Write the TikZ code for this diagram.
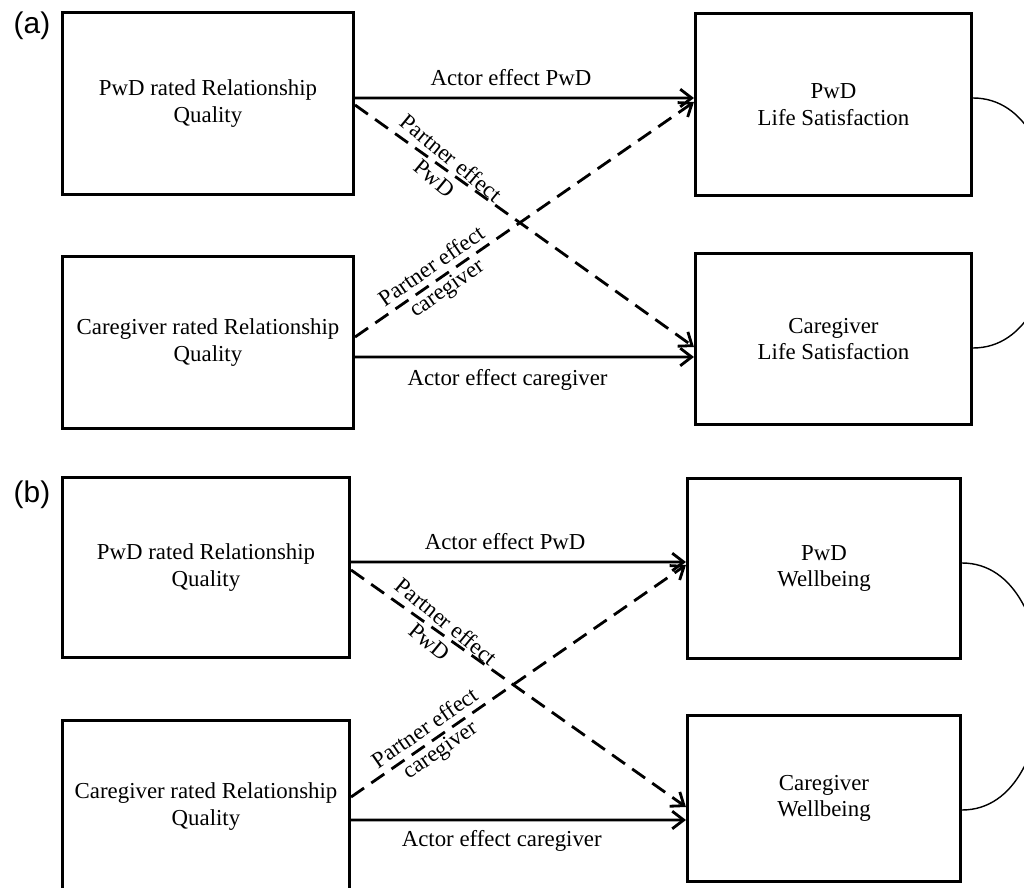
\documentclass[tikz,border=0pt]{standalone}
\usepackage{fontspec}
\setmainfont{Liberation Serif}
\newfontfamily\panelfont{Liberation Sans}
\usetikzlibrary{arrows.meta}

\begin{document}
\begin{tikzpicture}[x=0.02cm, y=-0.02cm, >={Straight Barb[length=6.5pt,width=10pt]}]
    \tikzstyle{box}=[draw, line width=1.8pt, align=center, inner sep=0pt, font=\fontsize{13}{15}\selectfont]
    \tikzstyle{actor}=[->, line width=1.6pt]
    \tikzstyle{partner}=[->, line width=1.6pt, dash pattern=on 9pt off 5pt]
    \tikzstyle{annot}=[align=center, font=\fontsize{13}{15}\selectfont]
    \tikzstyle{link}=[line width=0.8pt]
    \tikzstyle{panel}=[font=\panelfont\fontsize{17}{20}\selectfont]

    \useasboundingbox (0,0) rectangle (1024,888);
    \clip (0,0) rectangle (1024,888);

    % (a) Life Satisfaction
    \node[panel] (La) at (32, 26) {(a)};
    \node[box, minimum width=5.82cm, minimum height=3.64cm] (PwDRQa) at (208, 103.5) {PwD rated Relationship\\Quality};
    \node[box, minimum width=5.82cm, minimum height=3.44cm] (CgRQa) at (208, 342.5) {Caregiver rated Relationship\\Quality};
    \node[box, minimum width=5.52cm, minimum height=3.64cm] (PwDLSa) at (833.5, 104.5) {PwD\\Life Satisfaction};
    \node[box, minimum width=5.52cm, minimum height=3.42cm] (CgLSa) at (833.5, 339) {Caregiver\\Life Satisfaction};

    \draw[actor] ([yshift=0.11cm]PwDRQa.east) -- node[annot, above=3pt, pos=0.46] {Actor effect PwD} ([yshift=0.13cm]PwDLSa.west);
    \draw[actor] ([yshift=-0.29cm]CgRQa.east) -- node[annot, below=3pt, pos=0.45] {Actor effect caregiver} ([yshift=-0.36cm]CgLSa.west);
    \draw[partner] ([yshift=-0.03cm]PwDRQa.east) -- node[annot, sloped, rotate=-4, pos=0.26] {Partner effect\\PwD} ([yshift=-0.16cm]CgLSa.west);
    \draw[partner] ([yshift=0.11cm]CgRQa.east) -- node[annot, sloped, pos=0.25] {Partner effect\\caregiver} ([yshift=0.05cm]PwDLSa.west);

    \draw[link] ([yshift=0.13cm]PwDLSa.east) to[out=0, in=0, looseness=1.1] ([yshift=-0.18cm]CgLSa.east);

    % (b) Wellbeing
    \node[panel] (Lb) at (32, 495) {(b)};
    \node[box, minimum width=5.74cm, minimum height=3.6cm] (PwDRQb) at (206, 567.5) {PwD rated Relationship\\Quality};
    \node[box, minimum width=5.74cm, minimum height=3.44cm] (CgRQb) at (206, 806.5) {Caregiver rated Relationship\\Quality};
    \node[box, minimum width=5.46cm, minimum height=3.6cm] (PwDWb) at (824, 568.5) {PwD\\Wellbeing};
    \node[box, minimum width=5.46cm, minimum height=3.32cm] (CgWb) at (824, 798.5) {Caregiver\\Wellbeing};

    \draw[actor] ([yshift=0.11cm]PwDRQb.east) -- node[annot, above=3pt, pos=0.46] {Actor effect PwD} ([yshift=0.13cm]PwDWb.west);
    \draw[actor] ([yshift=-0.27cm]CgRQb.east) -- node[annot, below=2pt, pos=0.45] {Actor effect caregiver} ([yshift=-0.43cm]CgWb.west);
    \draw[partner] ([yshift=-0.05cm]PwDRQb.east) -- node[annot, sloped, rotate=-4, pos=0.26] {Partner effect\\PwD} ([yshift=-0.17cm]CgWb.west);
    \draw[partner] ([yshift=0.19cm]CgRQb.east) -- node[annot, sloped, pos=0.245] {Partner effect\\caregiver} ([yshift=0.07cm]PwDWb.west);

    \draw[link] ([yshift=0.11cm]PwDWb.east) to[out=0, in=0, looseness=1.1] ([yshift=-0.23cm]CgWb.east);
\end{tikzpicture}
\end{document}
